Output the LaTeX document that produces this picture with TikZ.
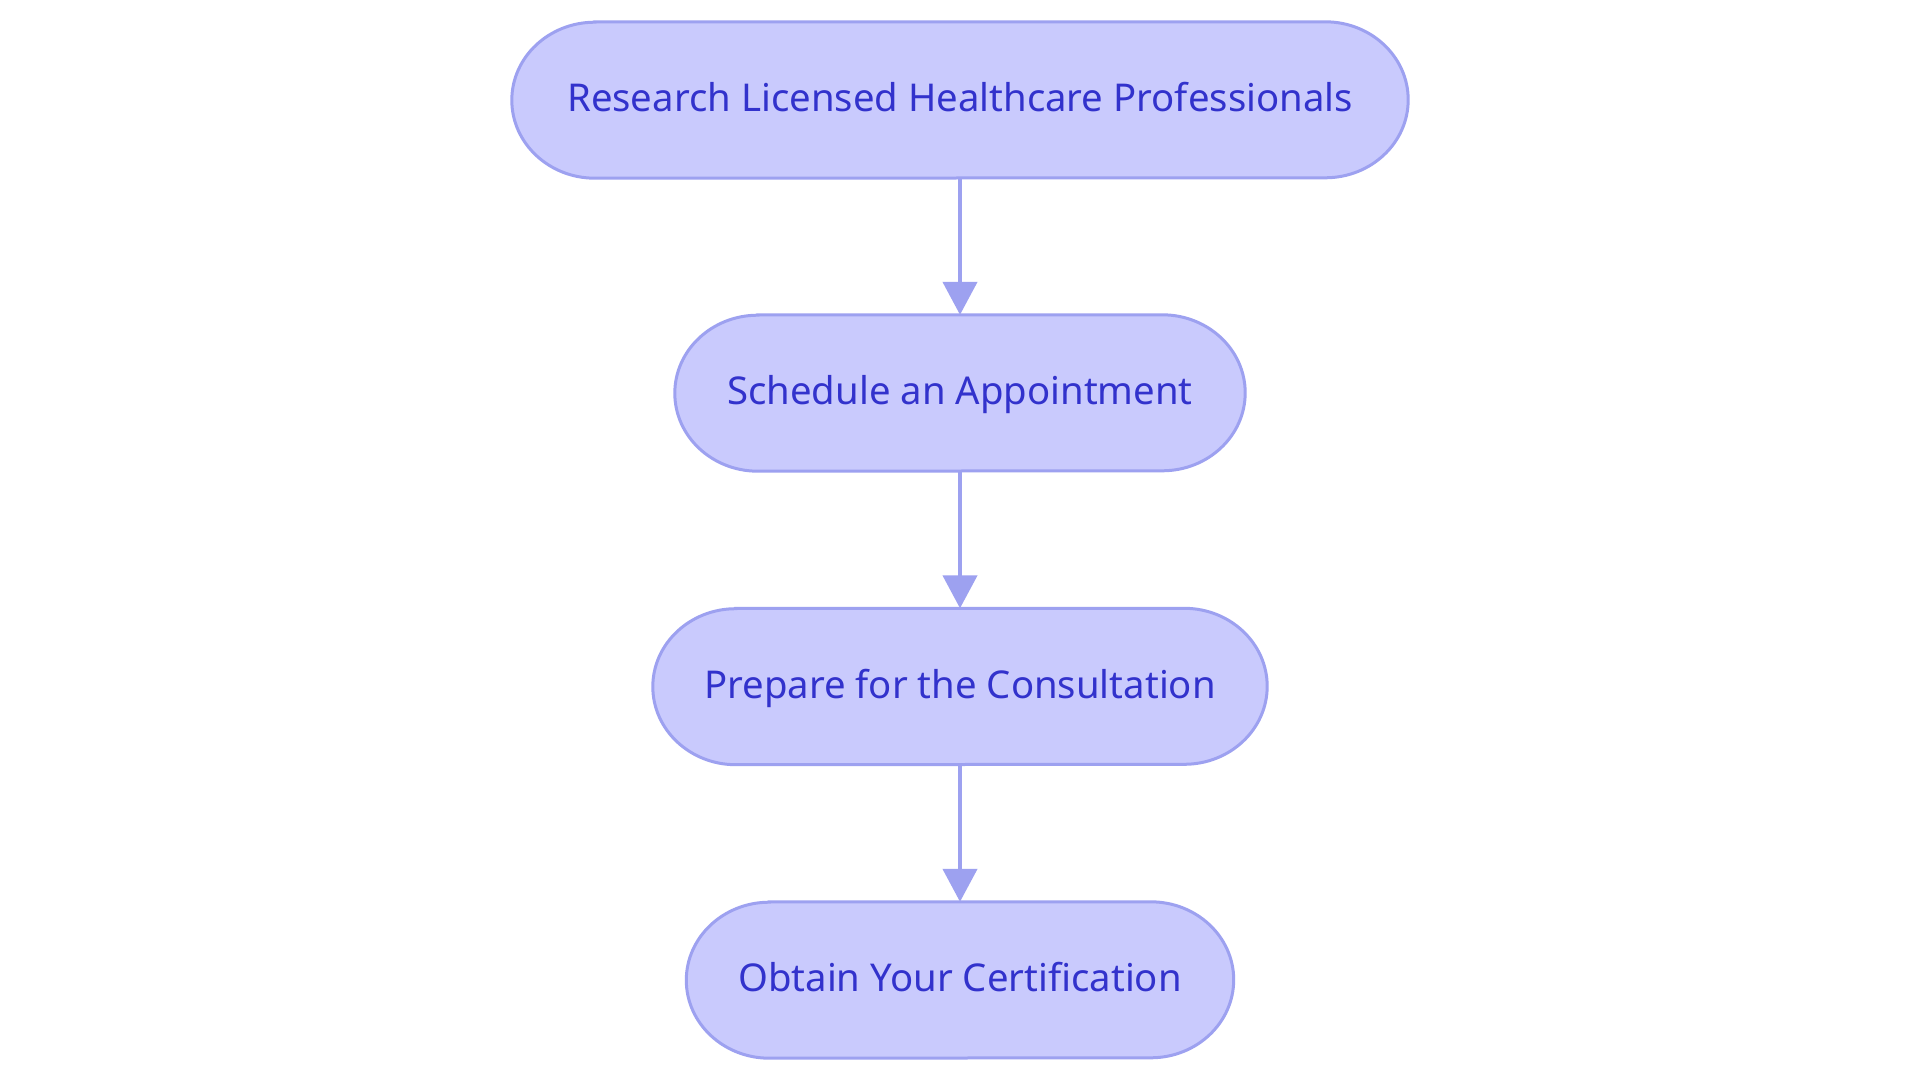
\documentclass[tikz,border=0pt]{standalone}
\usepackage{fontspec}
\setmainfont{Noto Sans}
\usetikzlibrary{arrows.meta,backgrounds}
\definecolor{nodefill}{HTML}{C9CAFD}
\definecolor{nodeline}{HTML}{9DA1F0}
\definecolor{nodetext}{HTML}{3232CC}
\tikzset{
  stepbox/.style={draw=none, inner sep=0pt, minimum height=156pt,
    text height=29pt, text depth=5.5pt,
    text=nodetext, font=\fontsize{38.3}{46}\selectfont, anchor=center},
  stadium/.style={fill=nodefill, draw=nodeline, line width=3pt},
  conn/.style={draw=nodeline, line width=4.5pt,
    -{Triangle[width=34pt,length=33pt]}}
}
\newcommand{\stadiumpath}[1]{%
  \path[stadium] ([xshift=83pt]#1.north west) -- ([xshift=-83pt]#1.north east)
    arc[start angle=90,end angle=-90,x radius=83pt,y radius=78pt]
    -- ([xshift=83pt]#1.south west)
    arc[start angle=270,end angle=90,x radius=83pt,y radius=78pt] -- cycle;}
\begin{document}
\begin{tikzpicture}[x=1pt,y=1pt]
\useasboundingbox (0,0) rectangle (1920,-1083);
\node[stepbox, minimum width=896pt] (n1) at (960,-100) {Research Licensed Healthcare Professionals};
\node[stepbox, minimum width=570pt] (n2) at (960,-393) {Schedule an Appointment};
\node[stepbox, minimum width=614pt] (n3) at (960,-686.5) {Prepare for the Consultation};
\node[stepbox, minimum width=547pt] (n4) at (960,-980) {Obtain Your Certification};
\begin{scope}[on background layer]
\fill[white] (0,0) rectangle (1920,-1083);
\stadiumpath{n1}
\stadiumpath{n2}
\stadiumpath{n3}
\stadiumpath{n4}
\end{scope}
\draw[conn] (n1) -- (n2);
\draw[conn] (n2) -- (n3);
\draw[conn] (n3) -- (n4);
\end{tikzpicture}
\end{document}
